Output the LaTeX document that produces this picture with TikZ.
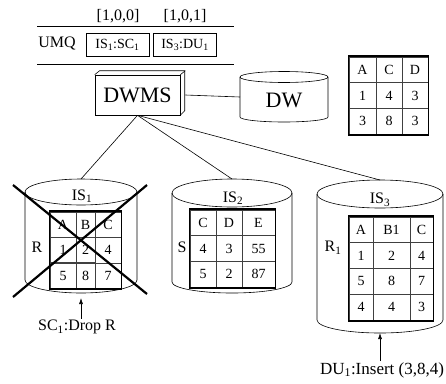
\documentclass[tikz,border=0pt]{standalone}
\usepackage{fontspec}
\setmainfont{Liberation Serif}
\usetikzlibrary{matrix,arrows.meta}

\tikzset{
  txt/.style={font=\fontsize{16}{18}\selectfont, inner sep=1pt},
  big/.style={font=\fontsize{22}{24}\selectfont},
  qbox/.style={draw, font=\fontsize{14}{16}\selectfont, minimum width=63pt, minimum height=23pt},
  tab/.style={matrix of nodes, inner sep=0pt,
    column sep=-0.4pt, row sep=-0.4pt,
    nodes={draw=black!75, line width=0.4pt, inner sep=0pt, minimum height=#1,
      font=\fontsize{14}{16}\selectfont}},
  frame/.style={line width=1.8pt},
  cross/.style={line width=2.2pt},
  arr/.style={-{Latex[length=6pt,width=4pt]}},
  % cylinder: half width, top ry, height, bottom ry
  pics/drum/.style n args={4}{code={
    \draw (-#1,0) -- (-#1,#3) arc[start angle=180, end angle=0, x radius=#1, y radius=#4] -- (#1,0);
    \draw (0,0) ellipse[x radius=#1, y radius=#2];
    \coordinate (-n) at (0,-#2);
    \coordinate (-s) at (0,#3+#4);
    \coordinate (-w) at (-#1,#3/2);
  }}
}

\begin{document}
\begin{tikzpicture}[x=1pt, y=-1pt, line width=0.6pt]
    \useasboundingbox (0,0) rectangle (446,383);

    % Update message queue
    \node[txt] (v1) at (118,16) {[1,0,0]};
    \node[txt] (v2) at (185,16) {[1,0,1]};
    \draw (37,26) -- (234,26);
    \node[txt] (umq) at (57,43) {UMQ};
    \node[qbox] (q1) at (117.5,45) {IS\textsubscript{1}:SC\textsubscript{1}};
    \node[qbox] (q2) at (185,45) {IS\textsubscript{3}:DU\textsubscript{1}};
    \draw (37,64) -- (234,64);

    % DWMS and DW
    \node[big, draw, minimum width=85pt, minimum height=40pt] (dwms) at (137.5,95) {DWMS};
    \draw (dwms.north west) -- ++(5,-4) -- ++(85,0) -- ++(0,40) -- (dwms.south east);
    \draw ([xshift=5pt,yshift=4pt]dwms.north east) -- (dwms.north east);
    \pic (dw) at (284,77) {drum={44}{5.5}{40}{5}};
    \node[big] (dwlbl) at (284,100) {DW};
    \draw ([xshift=5pt]dwms.east) -- (dw-w);

    \matrix (tdw) [tab=25.7pt, column 1/.style={nodes={minimum width=27pt}},
        column 2/.style={nodes={minimum width=26pt}},
        column 3/.style={nodes={minimum width=26pt}}] at (388.5,95.5) {
      A & C & D \\
      1 & 4 & 3 \\
      3 & 8 & 3 \\
    };
    \draw[frame] (tdw.north west) rectangle (tdw.south east);

    % Sources
    \pic (is1) at (81,192) {drum={56}{13}{88}{13}};
    \pic (is2) at (232,193) {drum={60}{14}{89}{11}};
    \pic (is3) at (380,194) {drum={63}{14}{126}{13}};
    \node[txt] (l1) at (82,196) {IS\textsubscript{1}};
    \node[txt] (l2) at (233,198) {IS\textsubscript{2}};
    \node[txt] (l3) at (380,200) {IS\textsubscript{3}};

    \draw (dwms.south) -- (is1-n);
    \draw (dwms.south) -- (is2-n);
    \draw (dwms.south) -- (is3-n);

    \node[txt] (r) at (37,247) {R};
    \matrix (t1) [tab=25.4pt, column 1/.style={nodes={minimum width=26pt}},
        column 2/.style={nodes={minimum width=19pt}},
        column 3/.style={nodes={minimum width=26pt}}] at (85.5,250) {
      A & B & C \\
      1 & 2 & 4 \\
      5 & 8 & 7 \\
    };
    \draw[frame] (t1.north west) rectangle (t1.south east);
    \draw[cross] (13,185) -- (147,294);
    \draw[cross] (147,185) -- (13,297);

    \node[txt] (s) at (182,247) {S};
    \matrix (t2) [tab=25.7pt, column 1/.style={nodes={minimum width=26pt}},
        column 2/.style={nodes={minimum width=26pt}},
        column 3/.style={nodes={minimum width=33pt}}] at (232.5,248.5) {
      C & D & E \\
      4 & 3 & 55 \\
      5 & 2 & 87 \\
    };
    \draw[frame] (t2.north west) rectangle (t2.south east);

    \node[txt] (r1) at (333,248) {R\textsubscript{1}};
    \matrix (t3) [tab=25.8pt, column 1/.style={nodes={minimum width=24pt}},
        column 2/.style={nodes={minimum width=37pt}},
        column 3/.style={nodes={minimum width=23pt}}] at (391,268.5) {
      A & B1 & C \\
      1 & 2 & 4 \\
      5 & 8 & 7 \\
      4 & 4 & 3 \\
    };
    \draw[frame] (t3.north west) rectangle (t3.south east);

    % Changes
    \node[txt] (sc) at (77,327) {SC\textsubscript{1}:Drop R};
    \draw[arr] (sc.north -| is1-s) -- ([yshift=-5pt]is1-s);
    \node[txt, font=\fontsize{17}{19}\selectfont] (du) at (382,370) {DU\textsubscript{1}:Insert (3,8,4)};
    \draw[arr] (du.north -| is3-s) -- (is3-s);
\end{tikzpicture}
\end{document}
